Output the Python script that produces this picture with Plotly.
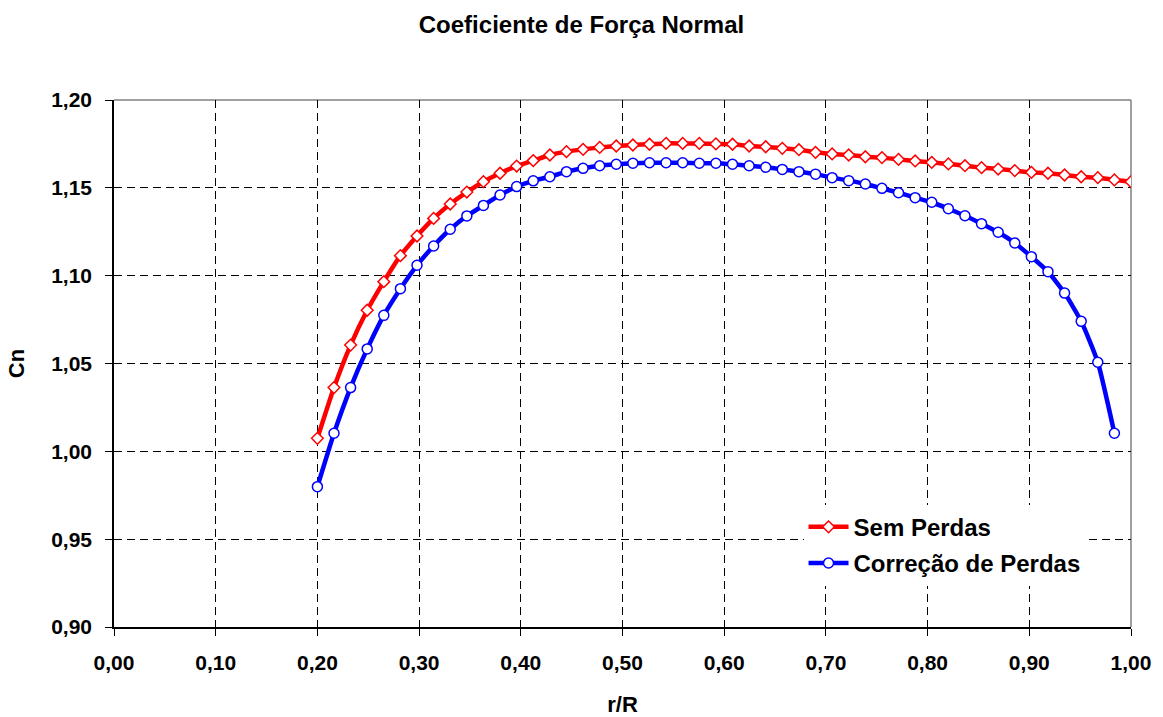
import plotly.graph_objects as go

n_red = 50
r_R_red = [0.2 + i * 0.8 / 49 for i in range(n_red)]
r_R_blue = r_R_red[:49]

cn_sem_perdas = [1.0074, 1.0363, 1.0605, 1.0803, 1.0966, 1.1114, 1.1226, 1.1326, 1.1408, 1.1476,
                 1.1535, 1.1583, 1.1624, 1.1655, 1.1687, 1.1706, 1.1719, 1.1730, 1.1738, 1.1744,
                 1.1748, 1.1753, 1.1753, 1.1753, 1.1750, 1.1748, 1.1738, 1.1734, 1.1725, 1.1717,
                 1.1702, 1.1693, 1.1687, 1.1677, 1.1672, 1.1662, 1.1653, 1.1645, 1.1636, 1.1626,
                 1.1615, 1.1607, 1.1598, 1.1588, 1.1583, 1.1573, 1.1563, 1.1558, 1.1545, 1.1535]

cn_correcao = [0.9799, 1.0103, 1.0363, 1.0583, 1.0774, 1.0926, 1.1059, 1.1169, 1.1264, 1.1340,
               1.1400, 1.1459, 1.1507, 1.1540, 1.1563, 1.1592, 1.1611, 1.1626, 1.1634, 1.1640,
               1.1643, 1.1643, 1.1643, 1.1640, 1.1640, 1.1634, 1.1626, 1.1617, 1.1605, 1.1592,
               1.1578, 1.1558, 1.1541, 1.1522, 1.1497, 1.1472, 1.1444, 1.1418, 1.1381, 1.1341,
               1.1296, 1.1247, 1.1186, 1.1108, 1.1023, 1.0901, 1.0740, 1.0507, 1.0103]

x_ticks = [i / 10 for i in range(11)]
x_tick_labels = ["0,00", "0,10", "0,20", "0,30", "0,40", "0,50", "0,60", "0,70", "0,80", "0,90", "1,00"]
y_ticks = [0.90, 0.95, 1.00, 1.05, 1.10, 1.15, 1.20]
y_tick_labels = ["0,90", "0,95", "1,00", "1,05", "1,10", "1,15", "1,20"]

FONT = "Liberation Sans, Arial, sans-serif"

fig = go.Figure()
fig.add_trace(go.Scatter(
    x=r_R_red, y=cn_sem_perdas, name="<b>Sem Perdas</b>", mode="lines+markers",
    line=dict(color="#FF0000", width=4.5, shape="spline", smoothing=0.5),
    marker=dict(symbol="diamond", size=9, color="white", line=dict(color="#FF0000", width=1.5)),
    legendgroup="a",
))
fig.add_trace(go.Scatter(
    x=r_R_blue, y=cn_correcao, name="<b>Correção de Perdas</b>", mode="lines+markers",
    line=dict(color="#0000FF", width=4.5, shape="spline", smoothing=0.5),
    marker=dict(symbol="circle", size=10, color="white", line=dict(color="#0000FF", width=1.5)),
    legendgroup="b",
))

# gray plot-area border on top and right
fig.add_shape(type="line", xref="paper", yref="paper", x0=0, x1=1, y0=1, y1=1,
              line=dict(color="#808080", width=1.5), layer="below")
fig.add_shape(type="line", xref="paper", yref="paper", x0=1, x1=1, y0=0, y1=1,
              line=dict(color="#808080", width=1.5), layer="below")

fig.update_layout(
    width=1163, height=717,
    paper_bgcolor="white", plot_bgcolor="white",
    margin=dict(l=114, r=32, t=100, b=90, autoexpand=False),
    font=dict(family=FONT, color="black"),
    title=dict(text="<b>Coeficiente de Força Normal</b>", x=0.5, xanchor="center",
               y=0.965, yanchor="middle", font=dict(size=24, family=FONT, color="black")),
    legend=dict(x=0.678, y=0.232, xanchor="left", yanchor="top", bgcolor="white",
                font=dict(size=24, family=FONT, color="black"), traceorder="grouped",
                tracegroupgap=2, itemwidth=40),
    showlegend=True,
)
fig.update_xaxes(
    range=[0, 1], tickvals=x_ticks, ticktext=["<b>%s</b>" % t for t in x_tick_labels],
    tickfont=dict(size=21, family=FONT, color="black"), ticks="outside", ticklen=7,
    tickcolor="black", ticklabelstandoff=9, automargin=False,
    showline=True, linecolor="black", linewidth=1.5, mirror=False,
    showgrid=True, gridcolor="black", griddash="8px,5px", gridwidth=1,
    zeroline=False,
    title=dict(text="<b>r/R</b>", font=dict(size=22, family=FONT, color="black"), standoff=31),
)
fig.update_yaxes(
    range=[0.90, 1.20], tickvals=y_ticks, ticktext=["<b>%s</b>" % t for t in y_tick_labels],
    tickfont=dict(size=21, family=FONT, color="black"), ticks="outside", ticklen=7,
    tickcolor="black", ticklabelstandoff=9, automargin=False,
    showline=True, linecolor="black", linewidth=1.5, mirror=False,
    showgrid=True, gridcolor="black", griddash="8px,5px", gridwidth=1,
    zeroline=False,
    title=dict(text="<b>Cn</b>", font=dict(size=22, family=FONT, color="black"), standoff=20),
)

fig.write_html("out.html", config={"displayModeBar": False},
               post_script="document.body.style.margin='0';")
